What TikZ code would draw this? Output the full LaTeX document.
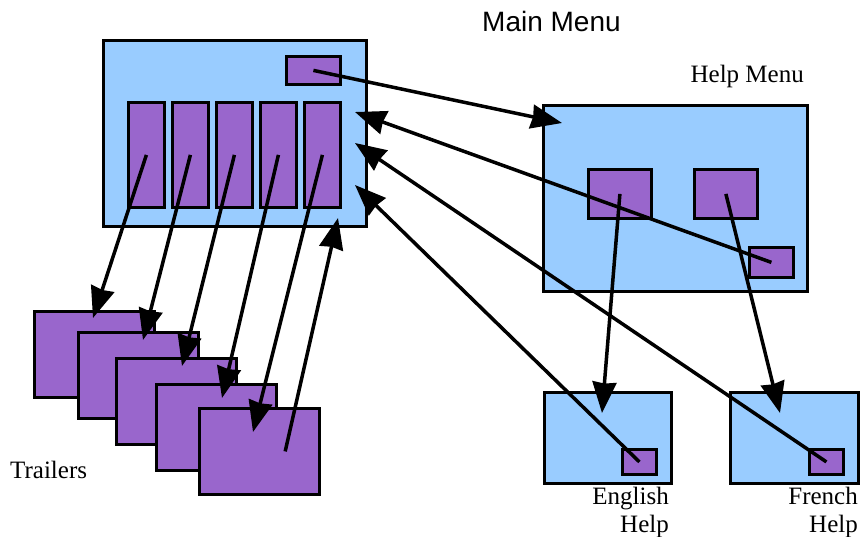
\documentclass[tikz,border=0pt]{standalone}
\usepackage{fontspec}
\setmainfont{Liberation Serif}
\newfontfamily\menufont{Liberation Sans}
\usetikzlibrary{arrows.meta, calc}
\definecolor{menublue}{HTML}{99CCFF}
\definecolor{itempurple}{HTML}{9966CC}
\tikzstyle{screen} = [rectangle, draw=black, line width=2.8pt, fill=menublue, inner sep=0pt, anchor=north west]
\tikzstyle{item} = [rectangle, draw=black, line width=2.8pt, fill=itempurple, inner sep=0pt, anchor=north west]
\tikzstyle{arrow} = [line width=3.5pt, -{Stealth[length=31pt, width=24pt, inset=1.5pt]}]
\tikzstyle{caption} = [font=\fontsize{25}{28}\selectfont, inner sep=0pt]

\begin{document}
\begin{tikzpicture}[x=1pt, y=-1pt]
    \useasboundingbox (0,0) rectangle (860,537);

    % Main menu
    \node (mainmenu) [screen, minimum width=263pt, minimum height=186pt] at (102,39) {};
    \node (helpbtn) [item, minimum width=54pt, minimum height=28pt] at (285,55) {};
    \foreach \i in {1,...,5}
        \node (col\i) [item, minimum width=36pt, minimum height=105pt] at ({127+44*(\i-1)},101) {};

    % Trailers
    \foreach \i/\x/\y in {1/33/310, 2/77/331, 3/115/357, 4/155/383, 5/198/407}
        \node (trailer\i) [item, minimum width=120pt, minimum height=86pt] at (\x,\y) {};

    % Help menu
    \node (helpmenu) [screen, minimum width=264pt, minimum height=186pt] at (542,104) {};
    \node (helpen) [item, minimum width=63pt, minimum height=49pt] at (587,168) {};
    \node (helpfr) [item, minimum width=63pt, minimum height=49pt] at (693,168) {};
    \node (helpback) [item, minimum width=44pt, minimum height=30pt] at (748,246) {};

    % Help pages
    \node (enhelp) [screen, minimum width=127pt, minimum height=91pt] at (543,391) {};
    \node (enback) [item, minimum width=34pt, minimum height=25pt] at (621,448) {};
    \node (frhelp) [screen, minimum width=128pt, minimum height=91pt] at (729,391) {};
    \node (frback) [item, minimum width=34pt, minimum height=25pt] at (808,448) {};

    % Labels
    \node (maintitle) [font=\menufont\fontsize{28}{30}\selectfont, inner sep=0pt, anchor=base west] at (482,32) {Main Menu};
    \node (helptitle) [caption, anchor=base east] at (804,83) {Help Menu};
    \node (trailertitle) [caption, anchor=base west] at (10,478) {Trailers};
    \node (entitle) [caption, align=right, anchor=north east] at (669,487) {English\\Help};
    \node (frtitle) [caption, align=right, anchor=north east] at (858,487) {French\\Help};

    % Arrow tips
    \coordinate (helpin) at (562,123);
    \foreach \i/\x/\y in {1/93/318, 2/143/340, 3/182/366, 4/222/398, 5/253/432}
        \coordinate (trailerin\i) at (\x,\y);
    \coordinate (mainbottom) at (338,218);
    \coordinate (mainright1) at (355,112);
    \coordinate (mainright2) at (355,143);
    \coordinate (mainright3) at (355,185);
    \coordinate (enin) at (602,413);
    \coordinate (frin) at (780,413);

    % Arrows
    \draw [arrow] (helpbtn.center) -- (helpin);
    \foreach \i in {1,...,5}
        \draw [arrow] (col\i.center) -- (trailerin\i);
    \draw [arrow] ($(trailer5.center)!0.42!(trailer5.east)$) -- (mainbottom);
    \draw [arrow] (helpback.center) -- (mainright1);
    \draw [arrow] (frback.center) -- (mainright2);
    \draw [arrow] (enback.center) -- (mainright3);
    \draw [arrow] (helpen.center) -- (enin);
    \draw [arrow] (helpfr.center) -- (frin);

\end{tikzpicture}
\end{document}
